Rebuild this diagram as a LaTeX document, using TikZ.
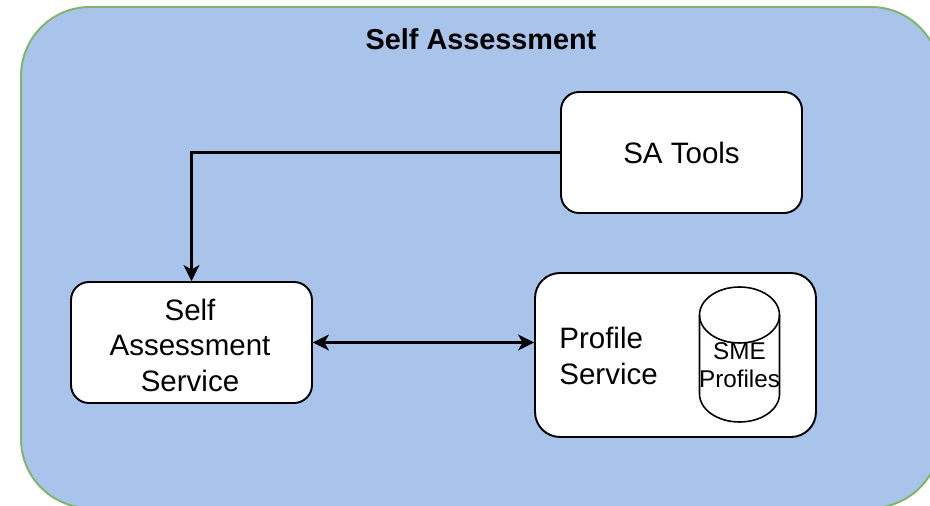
\documentclass[tikz,border=0pt]{standalone}
\usepackage{fontspec}
\setmainfont{Liberation Sans}
\usetikzlibrary{arrows.meta}
\definecolor{panelblue}{HTML}{A9C4EB}
\definecolor{panelgreen}{HTML}{82B366}
\tikzset{
  service/.style={draw,fill=white,line width=1.1pt,rounded corners=0.36cm,align=center,
    minimum width=4.82cm,minimum height=2.42cm,font=\fontsize{16.8}{20.2}\selectfont},
  link/.style={line width=1.4pt,-{Stealth[length=0.32cm,width=0.32cm,inset=0.09cm]}},
  biglink/.style={line width=1.4pt,{Stealth[length=0.32cm,width=0.32cm,inset=0.09cm]}-{Stealth[length=0.32cm,width=0.32cm,inset=0.09cm]}}
}
\begin{document}
\begin{tikzpicture}[x=0.02cm,y=-0.02cm]
  \clip (0,0) rectangle (930,506);
  \draw[line width=1.1pt,panelgreen,fill=panelblue,rounded corners=1.38cm] (21,7) rectangle (940,508);
  \node[font=\bfseries\fontsize{16.4}{19}\selectfont] (title) at (481,39) {Self Assessment};
  \node[service] (satools) at (681.5,152.5) {SA Tools};
  \node[service] (saservice) at (191.5,342.5) {};
  \node[align=center,font=\fontsize{16.8}{20.2}\selectfont,inner sep=0pt] (saservicelabel) at (190,345) {Self\\Assessment\\Service};
  \node[service,minimum width=5.62cm,minimum height=3.28cm,rounded corners=0.5cm] (profile) at (675.5,355) {};
  \node[anchor=west,align=left,font=\fontsize{16.8}{20.6}\selectfont,inner sep=0pt] (profilelabel) at (559,356) {Profile\\Service};
  % cylinder
  \coordinate (smetop) at (739.5,315);
  \coordinate (smebottom) at (739.5,394);
  \draw[line width=0.9pt] (smetop) ellipse[x radius=0.8cm,y radius=0.56cm];
  \draw[line width=0.9pt] ([xshift=-0.8cm]smetop) -- ([xshift=-0.8cm]smebottom)
    arc[start angle=180,end angle=360,x radius=0.8cm,y radius=0.56cm] -- ([xshift=0.8cm]smetop);
  \node[align=center,font=\fontsize{13.8}{16}\selectfont,inner sep=0pt] (smelabel) at (739.5,365) {SME\\Profiles};
  \draw[link] (satools.west) -| (saservice.north);
  \draw[biglink] (saservice.east) -- (saservice.east -| profile.west);
\end{tikzpicture}
\end{document}
